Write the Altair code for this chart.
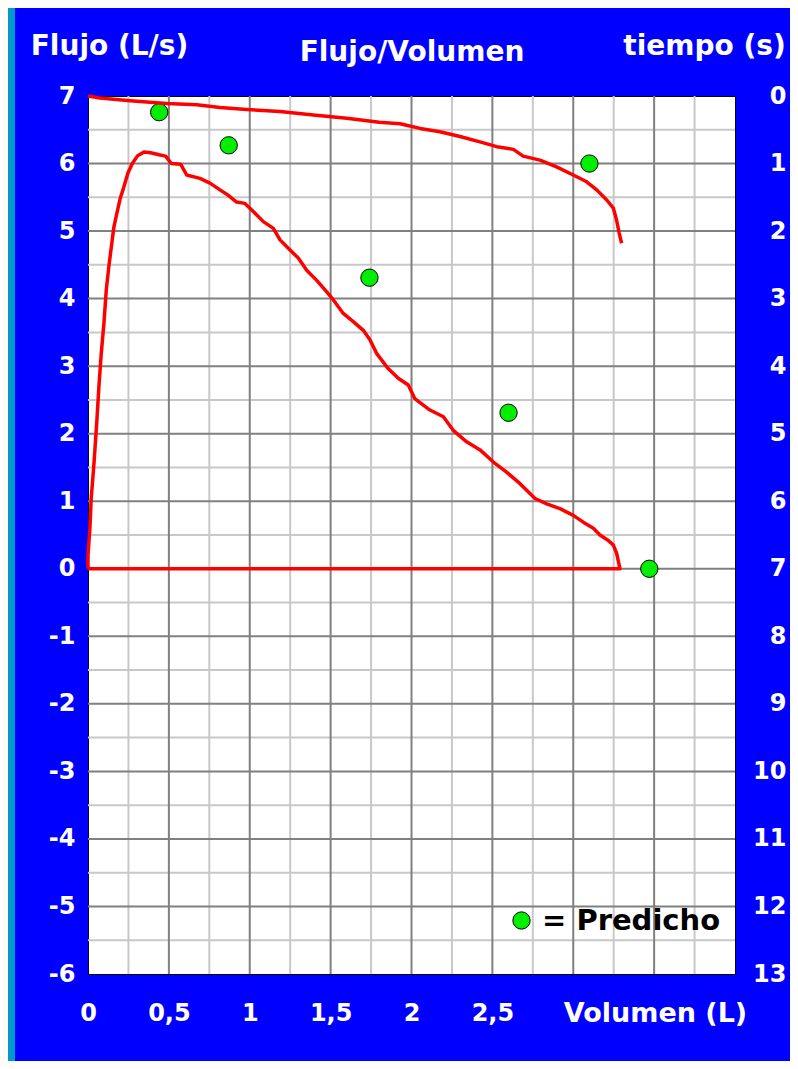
import altair as alt
import pandas as pd

FONT = "DejaVu Sans"

# Flow-volume loop (expiratory curve, closed back along zero flow)
flow_v = [0.0, 0.0, 0.012, 0.02, 0.037, 0.054, 0.068, 0.082, 0.099, 0.113, 0.13, 0.144,
          0.16, 0.18, 0.2, 0.22, 0.247, 0.274, 0.305, 0.346, 0.387, 0.44, 0.48, 0.515,
          0.573, 0.61, 0.692, 0.754, 0.816, 0.867, 0.919, 0.97, 1.022, 1.084, 1.146,
          1.187, 1.249, 1.3, 1.352, 1.414, 1.476, 1.517, 1.578, 1.64, 1.702, 1.743,
          1.784, 1.857, 1.918, 1.98, 2.02, 2.114, 2.197, 2.258, 2.341, 2.424, 2.506,
          2.588, 2.671, 2.764, 2.836, 2.918, 3.0, 3.062, 3.124, 3.165, 3.217, 3.248,
          3.268, 3.289, 0.0]
flow_f = [0.0, 0.2, 0.61, 1.05, 1.56, 2.16, 2.72, 3.19, 3.65, 4.13, 4.5, 4.76,
          5.06, 5.28, 5.49, 5.64, 5.86, 6.0, 6.11, 6.17, 6.16, 6.13, 6.11, 6.0,
          5.99, 5.83, 5.78, 5.71, 5.61, 5.53, 5.43, 5.41, 5.29, 5.14, 5.04,
          4.87, 4.72, 4.6, 4.42, 4.27, 4.1, 3.98, 3.78, 3.66, 3.53, 3.39,
          3.19, 2.96, 2.82, 2.72, 2.52, 2.35, 2.25, 2.05, 1.88, 1.76, 1.58,
          1.43, 1.26, 1.04, 0.96, 0.89, 0.79, 0.69, 0.6, 0.5, 0.42, 0.35,
          0.23, 0.0, 0.0]

# Volume-time curve (right axis, time in s)
time_v = [0.0, 0.074, 0.26, 0.487, 0.672, 0.816, 0.981, 1.187, 1.393, 1.6, 1.8,
          1.929, 2.053, 2.176, 2.3, 2.423, 2.527, 2.63, 2.69, 2.794, 2.897, 3.0,
          3.083, 3.145, 3.207, 3.248, 3.268, 3.284, 3.299]
time_t = [0.0, 0.03, 0.07, 0.11, 0.13, 0.17, 0.2, 0.23, 0.28, 0.33, 0.39,
          0.41, 0.48, 0.53, 0.6, 0.68, 0.75, 0.79, 0.89, 0.95, 1.05, 1.17,
          1.27, 1.39, 1.54, 1.66, 1.84, 2.03, 2.18]

# Predicted values
pred_v = [0.44, 0.87, 1.74, 2.6, 3.47]
pred_f = [6.76, 6.27, 4.31, 2.31, 0.0]
fev1_v = [3.1]
fev1_t = [1.0]
pred_label = "= Predicho"

# Grid / tick values
x_major = [0.5, 1.0, 1.5, 2.0, 2.5, 3.0, 3.5]
x_minor = [0.25, 0.75, 1.25, 1.75, 2.25, 2.75, 3.25, 3.75]
y_major = [-5, -4, -3, -2, -1, 0, 1, 2, 3, 4, 5, 6]
y_minor = [-5.5, -4.5, -3.5, -2.5, -1.5, -0.5, 0.5, 1.5, 2.5, 3.5, 4.5, 5.5, 6.5]
x_labels = [0, 0.5, 1, 1.5, 2, 2.5]
flow_ticks = list(range(-6, 8))
time_ticks = list(range(0, 14))

xscale = alt.Scale(domain=[0, 4], nice=False, zero=False)
fscale = alt.Scale(domain=[-6, 7], nice=False, zero=False)
tscale = alt.Scale(domain=[0, 13], nice=False, zero=False, reverse=True)

common = dict(grid=False, ticks=False, domain=False, labelColor="white",
              labelFont=FONT, labelFontWeight="bold", labelFontSize=24,
              titleColor="white", titleFont=FONT, titleFontWeight="bold",
              labelOverlap=False, labelFlush=False)

xaxis = alt.Axis(values=x_labels, orient="bottom",
                 labelExpr="replace(format(datum.value, ''), '.', ',')",
                 labelBaseline="middle", labelPadding=39,
                 title="Volumen (L)", titleFontSize=27, titleX=567, titleY=39,
                 titleAlign="center", titleBaseline="middle", **common)
# top axis of the time layer carries the chart heading
xaxis_top = alt.Axis(orient="top", labels=False, grid=False, ticks=False, domain=False,
                     title="Flujo/Volumen", titleColor="white", titleFont=FONT,
                     titleFontWeight="bold", titleFontSize=28, titleX=323.5,
                     titleY=-44, titleAlign="center", titleBaseline="middle")
faxis = alt.Axis(values=flow_ticks, orient="left",
                 labelExpr="datum.value < 0 ? '-' + abs(datum.value) : '' + datum.value",
                 labelPadding=13, labelBaseline="middle",
                 title="Flujo (L/s)", titleFontSize=28, titleAngle=0, titleX=21,
                 titleY=-50, titleAlign="center", titleBaseline="middle", **common)
taxis = alt.Axis(values=time_ticks, orient="right", labelAlign="right",
                 labelPadding=51, labelBaseline="middle",
                 title="tiempo (s)", titleFontSize=28, titleAngle=0, titleX=-31,
                 titleY=-50, titleAlign="center", titleBaseline="middle", **common)

legend = alt.Legend(title=None, orient="none", legendX=419, legendY=810,
                    padding=0, symbolType="circle", symbolSize=300,
                    symbolStrokeColor="black", symbolStrokeWidth=1,
                    labelFont=FONT, labelFontWeight="bold", labelFontSize=29,
                    labelColor="black", labelOffset=6, labelLimit=400)
color = alt.Color("lab:N", scale=alt.Scale(domain=[pred_label], range=["#00EE00"]),
                  legend=legend)

X = lambda: alt.X("v:Q", scale=xscale, axis=xaxis)
XT = lambda: alt.X("v:Q", scale=xscale, axis=xaxis_top)
YF = lambda: alt.Y("f:Q", scale=fscale, axis=faxis)
YT = lambda: alt.Y("t:Q", scale=tscale, axis=taxis)

frame_df = pd.DataFrame({"a": [0]})
strip = alt.Chart(frame_df).mark_rect(color="#0099CC").encode(
    x=alt.value(-80), x2=alt.value(-73), y=alt.value(-88), y2=alt.value(965))

vminor = alt.Chart(pd.DataFrame({"v": x_minor})).mark_rule(
    color="#C8C8C8", strokeWidth=2).encode(x=X())
hminor = alt.Chart(pd.DataFrame({"f": y_minor})).mark_rule(
    color="#C8C8C8", strokeWidth=2).encode(y=YF())
vmajor = alt.Chart(pd.DataFrame({"v": x_major})).mark_rule(
    color="#808080", strokeWidth=2).encode(x=X())
hmajor = alt.Chart(pd.DataFrame({"f": y_major})).mark_rule(
    color="#808080", strokeWidth=2).encode(y=YF())

flow_df = pd.DataFrame({"v": flow_v, "f": flow_f, "i": list(range(len(flow_v)))})
flow_line = alt.Chart(flow_df).mark_line(color="#FF0000", strokeWidth=3.5,
                                         strokeJoin="round").encode(
    x=X(), y=YF(), order="i:Q")

pred_df = pd.DataFrame({"v": pred_v, "f": pred_f, "lab": [pred_label] * len(pred_v)})
pred_pts = alt.Chart(pred_df).mark_circle(size=300, opacity=1, stroke="black",
                                          strokeWidth=1).encode(
    x=X(), y=YF(), color=color)

time_df = pd.DataFrame({"v": time_v, "t": time_t, "i": list(range(len(time_v)))})
time_line = alt.Chart(time_df).mark_line(color="#FF0000", strokeWidth=3.5,
                                         strokeJoin="round").encode(
    x=XT(), y=YT(), order="i:Q")
fev1_df = pd.DataFrame({"v": fev1_v, "t": fev1_t, "lab": [pred_label]})
fev1_pt = alt.Chart(fev1_df).mark_circle(size=300, opacity=1, stroke="black",
                                         strokeWidth=1).encode(
    x=XT(), y=YT(), color=color)

flow_layer = alt.layer(strip, vminor, hminor, vmajor, hmajor, flow_line, pred_pts)
time_layer = alt.layer(time_line, fev1_pt)

chart = alt.layer(flow_layer, time_layer).resolve_scale(
    x="independent", y="independent").properties(
    width=647, height=878, autosize="none",
    padding={"left": 80, "top": 88, "right": 55, "bottom": 87},
).configure(background="#0000FF").configure_view(fill="white", stroke="black",
                                                 strokeWidth=1)

chart.save("out.html", embed_options={"renderer": "svg", "actions": False})
